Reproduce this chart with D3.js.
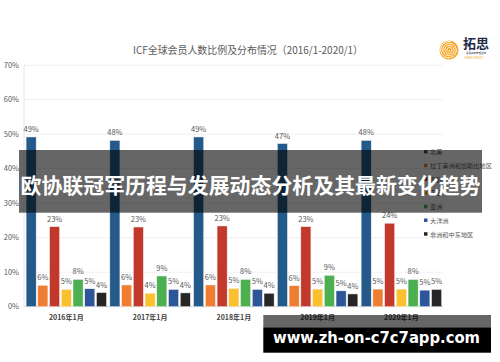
<!DOCTYPE html>
<html><head><meta charset="utf-8">
<script src="https://cdn.jsdelivr.net/npm/d3@7"></script>
<style>body{margin:0;background:#fff}svg{display:block}</style>
</head><body>
<svg id="c" width="500" height="362"></svg>
<script>
const groups = ["2016年1月","2017年1月","2018年1月","2019年1月","2020年1月"];
const series = ["北美","拉丁美洲和加勒比地区","西欧","东欧","亚洲","大洋洲","非洲和中东地区"];
const colors = ["#245a8a","#ef7d32","#c2392b","#fbc02d","#4caf50","#2d5599","#262626"];
// values per group, in series order
const v2016 = [49.2, 6.2, 23.2, 5.0, 7.9, 5.2, 4.1];
const v2017 = [48.2, 6.3, 23.1, 3.9, 8.9, 5.0, 4.0];
const v2018 = [49.2, 6.3, 23.4, 5.3, 7.9, 5.0, 3.9];
const v2019 = [47.3, 6.1, 23.2, 5.1, 9.1, 4.6, 3.7];
const v2020 = [48.2, 5.1, 24.2, 5.1, 7.9, 4.8, 5.0];
const values = [v2016, v2017, v2018, v2019, v2020];
const yTicks = [0,10,20,30,40,50,60,70];
const title = "ICF全球会员人数比例及分布情况（2016/1-2020/1）";
const banner = "欧协联冠军历程与发展动态分析及其最新变化趋势";
const watermark = "www.zh-on-c7c7app.com";

const svg = d3.select("#c");
const font = "'Noto Sans CJK SC','Noto Sans',sans-serif";
const y = d3.scaleLinear().domain([0,70]).range([306.7,65.2]);
const x0 = d3.scaleBand().domain(groups).range([24.4,443.3]).paddingInner(0.039).paddingOuter(0.02);
const x1 = d3.scaleBand().domain(series).range([0,x0.bandwidth()]).paddingInner(0.14);

function fitText(sel, w){ const n=sel.node(); const l=n.getComputedTextLength(); if(l>0) sel.attr("textLength",w).attr("lengthAdjust","spacingAndGlyphs"); }

// gridlines
svg.append("g").selectAll("line").data(yTicks).join("line")
  .attr("x1",24).attr("x2",443).attr("y1",d=>y(d)).attr("y2",d=>y(d))
  .attr("stroke",d=>d===0?"#d9d9d9":"#f0f0f0").attr("stroke-width",1);
svg.append("line").attr("x1",24).attr("x2",24).attr("y1",y(70)).attr("y2",y(0)).attr("stroke","#e6e6e6");

// y labels
svg.append("g").selectAll("text").data(yTicks).join("text")
  .attr("x",19).attr("y",d=>y(d)+2.5).attr("text-anchor","end")
  .attr("font-family",font).attr("font-size",7.5).attr("fill","#595959")
  .text(d=>d+"%");

// title
const t = svg.append("text").attr("x",248).attr("y",53.5).attr("text-anchor","middle")
  .attr("font-family",font).attr("font-size",10.5).attr("fill","#595959").text(title);
fitText(t, 230);

// bars
const g = svg.append("g").selectAll("g").data(groups).join("g")
  .attr("transform",d=>`translate(${x0(d)},0)`);
g.selectAll("rect").data((d,i)=>values[i].map((v,j)=>({s:series[j],v,j}))).join("rect")
  .attr("x",d=>x1(d.s)).attr("width",x1.bandwidth())
  .attr("y",d=>y(d.v)).attr("height",d=>y(0)-y(d.v))
  .attr("fill",d=>colors[d.j]).attr("stroke","#f4f4f4").attr("stroke-width",0.5);
g.selectAll("text.v").data((d,i)=>values[i].map((v,j)=>({s:series[j],v,j}))).join("text")
  .attr("class","v")
  .attr("x",d=>x1(d.s)+x1.bandwidth()/2).attr("y",d=>y(d.v)-5)
  .attr("text-anchor","middle").attr("font-family",font).attr("font-size",7.5)
  .attr("fill","#595959").text(d=>Math.round(d.v)+"%");

// x labels
svg.append("g").selectAll("text").data(groups).join("text")
  .attr("x",d=>x0(d)+x0.bandwidth()/2).attr("y",320)
  .attr("text-anchor","middle").attr("font-family",font).attr("font-size",7)
  .attr("font-weight","bold").attr("fill","#404040").text(d=>d);

// legend
const lg = svg.append("g").selectAll("g").data(series).join("g")
  .attr("transform",(d,i)=>`translate(424,${152+i*13.7})`);
lg.append("rect").attr("x",0).attr("y",-2).attr("width",3.5).attr("height",3.5).attr("fill",(d,i)=>colors[i]);
lg.append("text").attr("x",6).attr("y",2.3).attr("font-family",font).attr("font-size",6.2)
  .attr("fill","#595959").text(d=>d);

// logo
const logo = svg.append("g").attr("transform","translate(449,50)");
logo.append("circle").attr("r",9.5).attr("fill","#f5a623");
const spiral = d3.range(0,4*Math.PI*1.9,0.2).map(t=>{const r=0.8+t*0.34;return [r*Math.cos(t),r*Math.sin(t)];});
logo.append("path").attr("d",d3.line()(spiral)).attr("fill","none").attr("stroke","#fff").attr("stroke-width",1);
svg.append("text").attr("x",476).attr("y",48).attr("text-anchor","middle")
  .attr("font-family","'Noto Sans CJK SC',serif").attr("font-size",13).attr("font-weight","bold")
  .attr("fill","#1f2d4a").text("拓思");
svg.append("text").attr("x",476).attr("y",54).attr("text-anchor","middle")
  .attr("font-family",font).attr("font-size",2.5).attr("fill","#1f2d4a").text("拓思教练管理咨询");
svg.append("text").attr("x",474).attr("y",58.5).attr("text-anchor","middle")
  .attr("font-family",font).attr("font-size",3).attr("fill","#f5a623").text("ENRICHMENT");

// banner overlay
svg.append("rect").attr("x",19).attr("y",150).attr("width",463).attr("height",62.7).attr("fill","rgba(0,0,0,0.6)");
const b = svg.append("text").attr("x",250.5).attr("y",192.5).attr("text-anchor","middle")
  .attr("font-family",font).attr("font-size",21).attr("font-weight","bold").attr("fill","#fff").text(banner);
fitText(b, 460);

// watermark
svg.append("rect").attr("x",263.3).attr("y",315).attr("width",227.7).attr("height",12.3).attr("fill","rgba(0,0,0,0.6)");
svg.append("rect").attr("x",263.3).attr("y",327.3).attr("width",227.7).attr("height",25.4).attr("fill","#000");
const w = svg.append("text").attr("x",376.5).attr("y",343).attr("text-anchor","middle")
  .attr("font-family","'DejaVu Sans',sans-serif").attr("font-size",16).attr("font-weight","bold").attr("fill","#fff").text(watermark);
fitText(w, 207);
</script>
</body></html>
